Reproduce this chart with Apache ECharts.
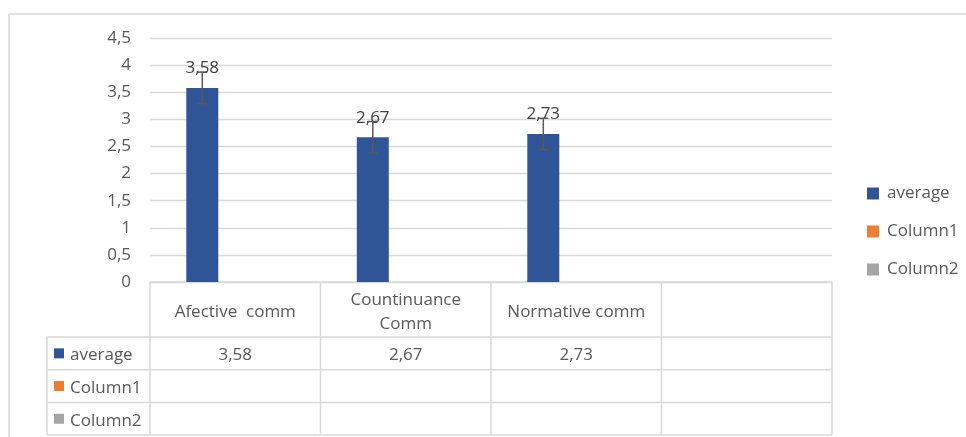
<!DOCTYPE html>
<html>
<head>
<meta charset="utf-8">
<script src="https://cdn.jsdelivr.net/npm/echarts@6/dist/echarts.min.js"></script>
<style>
html,body{margin:0;padding:0;background:#fff;}
#c{width:966px;height:437px;}
</style>
</head>
<body>
<div id="c"></div>
<script>
// ---- data ----
const categories = ['Afective  comm', 'Countinuance\nComm', 'Normative comm', ''];
const seriesNames = ['average', 'Column1', 'Column2'];
const average = [3.58, 2.67, 2.73, null];
const column1 = [null, null, null, null];
const column2 = [null, null, null, null];
const errorAmount = [0.29, 0.29, 0.29, null];
const yMin = 0, yMax = 4.5, yInterval = 0.5;

// ---- style ----
const FONT = '"Open Sans"';
const FS = 17;
const TXT = '#595959';
const LINE = '#d9d9d9';
const colors = ['#2F5597', '#ED7D31', '#A5A5A5'];
const BAR_W = 32;
const GAP = 0.03;

const fmt = v => (v == null ? '' : (Math.round(v * 100) / 100).toString().replace('.', ','));

const chart = echarts.init(document.getElementById('c'), null, {renderer: 'canvas'});

const errData = average.map((v, i) => v == null ? null : [i, v, errorAmount[i]]).filter(d => d);

chart.setOption({
  animation: false,
  textStyle: {fontFamily: FONT},
  color: colors,
  grid: {left: 150, right: 134, top: 38, bottom: 155},
  legend: {
    data: seriesNames,
    orient: 'vertical',
    left: 867, top: 185, padding: 0,
    itemWidth: 12, itemHeight: 12, itemGap: 21,
    icon: 'rect',
    textStyle: {color: TXT, fontSize: FS, fontFamily: FONT, padding: [2, 0, 0, 3]}
  },
  xAxis: {
    type: 'category', data: categories,
    axisLine: {show: false}, axisTick: {show: false}, axisLabel: {show: false}
  },
  yAxis: {
    type: 'value', min: yMin, max: yMax, interval: yInterval,
    axisLine: {show: false}, axisTick: {show: false},
    axisLabel: {color: TXT, fontSize: FS, fontFamily: FONT, margin: 19, formatter: v => fmt(v)},
    splitLine: {lineStyle: {color: LINE, width: 1.3}}
  },
  series: [
    {name: 'average', type: 'bar', data: average, barWidth: BAR_W, barGap: (GAP * 100) + '%',
     label: {show: true, position: 'top', distance: 11, color: '#404040', fontSize: FS, fontFamily: FONT,
             formatter: p => fmt(p.value)}},
    {name: 'Column1', type: 'bar', data: column1, barWidth: BAR_W, barGap: (GAP * 100) + '%'},
    {name: 'Column2', type: 'bar', data: column2, barWidth: BAR_W, barGap: (GAP * 100) + '%'},
    {type: 'custom', data: errData, z: 5,
     renderItem: (params, api) => {
       const i = api.value(0), v = api.value(1), e = api.value(2);
       const off = BAR_W * (1 + GAP);
       const hi = api.coord([i, v + e]);
       const lo = api.coord([i, v - e]);
       const x = hi[0] - off;
       const st = {stroke: '#595959', lineWidth: 1.5};
       return {type: 'group', children: [
         {type: 'line', shape: {x1: x, y1: hi[1], x2: x, y2: lo[1]}, style: st},
         {type: 'line', shape: {x1: x - 5, y1: hi[1], x2: x + 5, y2: hi[1]}, style: st},
         {type: 'line', shape: {x1: x - 5, y1: lo[1], x2: x + 5, y2: lo[1]}, style: st}
       ]};
     }}
  ]
});

// ---- data table built from axis scale ----
const c0 = chart.convertToPixel({xAxisIndex: 0}, 0);
const c1 = chart.convertToPixel({xAxisIndex: 0}, 1);
const band = c1 - c0;
const yTop = chart.convertToPixel({yAxisIndex: 0}, 0);
const headerH = 55, rowH = 32.7;
const leftX = 47;
const xs = categories.map((_, i) => chart.convertToPixel({xAxisIndex: 0}, i) - band / 2);
const xEnd = xs[xs.length - 1] + band;
xs.push(xEnd);
const rowsY = [yTop, yTop + headerH, yTop + headerH + rowH, yTop + headerH + 2 * rowH, yTop + headerH + 3 * rowH];
const g = [];
const ls = {stroke: LINE, lineWidth: 1.5};
// outer chart border
g.push({type: 'rect', shape: {x: 9, y: 14, width: 1000, height: 500}, style: {fill: null, stroke: LINE, lineWidth: 1.5}, silent: true});
// horizontal lines
g.push({type: 'line', shape: {x1: xs[0], y1: rowsY[0], x2: xEnd, y2: rowsY[0]}, style: ls});
for (let r = 1; r < rowsY.length; r++) g.push({type: 'line', shape: {x1: leftX, y1: rowsY[r], x2: xEnd, y2: rowsY[r]}, style: ls});
// vertical lines
xs.forEach(x => g.push({type: 'line', shape: {x1: x, y1: rowsY[0], x2: x, y2: rowsY[4]}, style: ls}));
g.push({type: 'line', shape: {x1: leftX, y1: rowsY[1], x2: leftX, y2: rowsY[4]}, style: ls});
// header texts
categories.forEach((cat, i) => {
  g.push({type: 'text', x: xs[i] + band / 2, y: (rowsY[0] + rowsY[1]) / 2 + 3,
    style: {text: cat, fill: TXT, font: FS + 'px ' + FONT, align: 'center', verticalAlign: 'middle', lineHeight: 24}});
});
// rows
const rowData = [average, column1, column2];
rowData.forEach((arr, r) => {
  const cy = (rowsY[r + 1] + rowsY[r + 2]) / 2 + 2;
  g.push({type: 'rect', shape: {x: 54, y: cy - 7, width: 10, height: 10}, style: {fill: colors[r]}});
  g.push({type: 'text', x: 70, y: cy, style: {text: seriesNames[r], fill: TXT, font: FS + 'px ' + FONT, align: 'left', verticalAlign: 'middle'}});
  arr.forEach((v, i) => {
    if (v == null) return;
    g.push({type: 'text', x: xs[i] + band / 2, y: cy, style: {text: fmt(v), fill: TXT, font: FS + 'px ' + FONT, align: 'center', verticalAlign: 'middle'}});
  });
});
chart.setOption({graphic: g});
</script>
</body>
</html>
